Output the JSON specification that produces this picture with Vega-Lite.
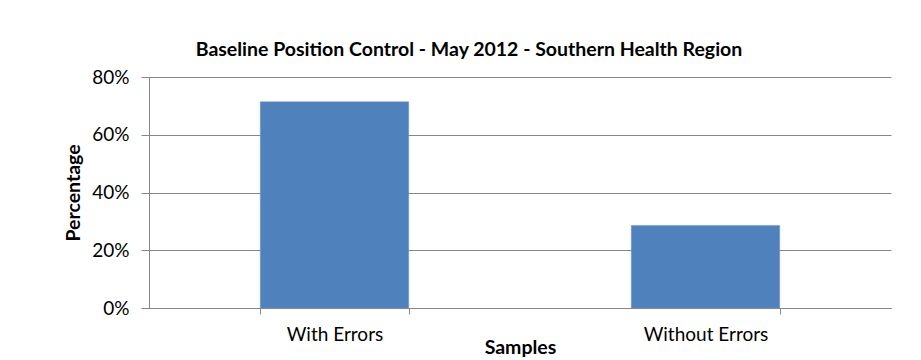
{
  "$schema": "https://vega.github.io/schema/vega-lite/v6.json",
  "autosize": {"type": "none"},
  "padding": {"left": 149, "top": 77, "right": 30, "bottom": 52},
  "width": 742,
  "height": 231,
  "background": "white",
  "title": {
    "text": "Baseline Position Control - May 2012 - Southern Health Region",
    "font": "Lato",
    "fontSize": 19.5,
    "fontWeight": "bold",
    "color": "#000000",
    "anchor": "middle",
    "dx": -51,
    "offset": 8
  },
  "data": {
    "values": [
      {"Samples": "With Errors", "Percentage": 0.714},
      {"Samples": "Without Errors", "Percentage": 0.286}
    ]
  },
  "mark": {"type": "bar", "color": "#4F81BD", "stroke": "#6C93C6", "strokeWidth": 0.5},
  "encoding": {
    "x": {
      "field": "Samples",
      "type": "nominal",
      "sort": null,
      "scale": {"paddingInner": 0.6, "paddingOuter": 0.3},
      "axis": {
        "labelAngle": 0,
        "labelFont": "Lato",
        "labelFontSize": 19,
        "labelColor": "#000000",
        "labelPadding": 11,
        "tickBand": "extent",
        "tickSize": 6,
        "tickColor": "#868686",
        "domainColor": "#868686",
        "title": "Samples",
        "titleFont": "Lato",
        "titleFontSize": 19.5,
        "titleFontWeight": "bold",
        "titleColor": "#000000",
        "titlePadding": -6
      }
    },
    "y": {
      "field": "Percentage",
      "type": "quantitative",
      "scale": {"domain": [0, 0.8]},
      "axis": {
        "values": [0, 0.2, 0.4, 0.6, 0.8],
        "format": ".0%",
        "labelFont": "Lato",
        "labelFontSize": 19,
        "labelColor": "#000000",
        "labelPadding": 12,
        "tickSize": 8,
        "tickColor": "#868686",
        "domainColor": "#868686",
        "gridColor": "#868686",
        "title": "Percentage",
        "titleFont": "Lato",
        "titleFontSize": 19.5,
        "titleFontWeight": "bold",
        "titleColor": "#000000",
        "titlePadding": 8
      }
    }
  },
  "config": {
    "view": {"stroke": null},
    "axis": {"gridWidth": 1, "domainWidth": 1, "tickWidth": 1}
  }
}
